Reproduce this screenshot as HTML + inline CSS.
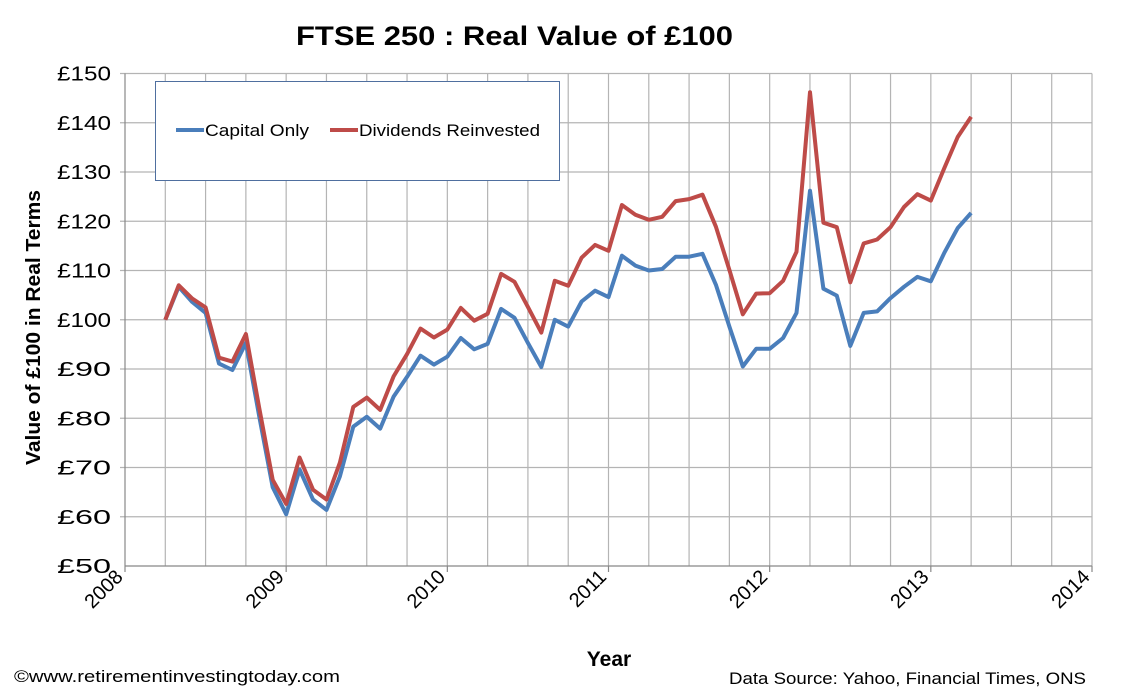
<!DOCTYPE html>
<html><head><meta charset="utf-8"><style>
html,body{margin:0;padding:0;background:#fff;}
svg{display:block;font-family:"Liberation Sans",Arial,sans-serif;}
</style></head><body>
<svg id="chart" width="1131" height="692" viewBox="0 0 1131 692">
<text x="296" y="45" textLength="437" lengthAdjust="spacingAndGlyphs" font-size="27" font-weight="bold">FTSE 250 : Real Value of £100</text>
<g id="grid"></g>
<g id="yticks"></g>
<g id="xticks"></g>
<g id="series"></g>
<text transform="translate(40,465) rotate(-90)" textLength="275" lengthAdjust="spacingAndGlyphs" font-size="20" font-weight="bold">Value of £100 in Real Terms</text>
<text x="609" y="666" text-anchor="middle" font-size="21" font-weight="bold">Year</text>
<g>
<rect x="155.5" y="81.5" width="404" height="99" fill="#fff" stroke="#4f6f9f" stroke-width="1"/>
<g>
<line x1="176" y1="130" x2="204" y2="130" stroke="#4a7ebb" stroke-width="4"/>
<text x="205" y="136" font-size="17" textLength="104" lengthAdjust="spacingAndGlyphs">Capital Only</text></g>
<g>
<line x1="330" y1="130" x2="358" y2="130" stroke="#be4b48" stroke-width="4"/>
<text x="359" y="136" font-size="17" textLength="181" lengthAdjust="spacingAndGlyphs">Dividends Reinvested</text></g>
</g>
<text x="14" y="682" font-size="17" textLength="326" lengthAdjust="spacingAndGlyphs">©www.retirementinvestingtoday.com</text>
<text x="729" y="684" font-size="17" textLength="357" lengthAdjust="spacingAndGlyphs">Data Source: Yahoo, Financial Times, ONS</text>
</svg>
<script>
const startMonth = 3; // Apr 2008, months since Jan 2008
const capitalOnly = [100,106.7,103.6,101.4,91.1,89.8,95.3,80.3,66,60.5,69.6,63.5,61.4,68.2,78.3,80.3,77.9,84.4,88.4,92.7,90.9,92.5,96.3,94,95.1,102.2,100.4,95.3,90.4,100,98.6,103.7,105.9,104.6,113,111,110,110.3,112.8,112.8,113.4,107.1,98.6,90.5,94.1,94.1,96.3,101.4,126.2,106.3,104.9,94.7,101.4,101.7,104.4,106.7,108.7,107.8,113.6,118.6,121.7];
const dividendsReinvested = [100,107,104.3,102.5,92.3,91.5,97.1,82,67.5,62.6,72,65.5,63.5,71,82.3,84.2,81.7,88.5,93,98.2,96.4,98,102.4,99.8,101.2,109.3,107.7,102.6,97.4,107.9,106.9,112.6,115.2,114,123.3,121.3,120.3,120.9,124.1,124.5,125.4,118.9,110.1,101.1,105.3,105.4,107.9,113.8,146.2,119.7,118.8,107.6,115.5,116.3,118.8,122.9,125.5,124.2,130.8,137.1,141.2];
const yTicks = [50,60,70,80,90,100,110,120,130,140,150];
const xYears = [2008,2009,2010,2011,2012,2013,2014];

const NS="http://www.w3.org/2000/svg";
const X0=125, X1=1092, Y0=566, Y1=73.5;
const xm = m => X0 + (X1-X0)*m/72;
const yv = v => Y0 - (Y0-Y1)*(v-50)/100;
function mk(tag, attrs, parent){const e=document.createElementNS(NS,tag);for(const k in attrs)e.setAttribute(k,attrs[k]);parent.appendChild(e);return e;}
const grid=document.getElementById('grid'), yt=document.getElementById('yticks'), xt=document.getElementById('xticks'), ser=document.getElementById('series');
for(let q=1;q<=24;q++){
  const l=mk('line',{x1:xm(q*3),x2:xm(q*3),y1:Y1,y2:Y0,stroke:'#b4b4b4','stroke-width':1.2},grid);
  
  
}
yTicks.forEach(v=>{
  if(v>50){const l=mk('line',{x1:X0-5,x2:X1,y1:yv(v),y2:yv(v),stroke:'#b4b4b4','stroke-width':1.2},grid);
  
  }
  const t=mk('text',{x:X0-68,y:yv(v)+7,'font-size':20,textLength:54,lengthAdjust:'spacingAndGlyphs'},yt);
  t.textContent='£'+v;
  
  
});
mk('line',{x1:X0,x2:X0,y1:Y1,y2:Y0,stroke:'#888','stroke-width':1.2},yt);
mk('line',{x1:X0,x2:X1,y1:Y0,y2:Y0,stroke:'#888','stroke-width':1.2},xt);
xYears.forEach((yr,i)=>{
  const x=xm(i*12);
  mk('line',{x1:x,x2:x,y1:Y0,y2:Y0+6,stroke:'#888','stroke-width':1.2},xt);
  const t=mk('text',{x:0,y:0,'text-anchor':'end','font-size':20,transform:`translate(${x-1},${Y0+12}) rotate(-45)`},xt);
  t.textContent=yr;
  
  
});
function line(data,color,name){
  const pts=data.map((v,i)=>xm(startMonth+i).toFixed(1)+','+yv(v).toFixed(1)).join(' ');
  const p=mk('polyline',{points:pts,fill:'none',stroke:color,'stroke-width':4,'stroke-linejoin':'round'},ser);
  
  
}
line(capitalOnly,'#4a7ebb','capital-only-line');
line(dividendsReinvested,'#be4b48','dividends-reinvested-line');
</script>
</body></html>
